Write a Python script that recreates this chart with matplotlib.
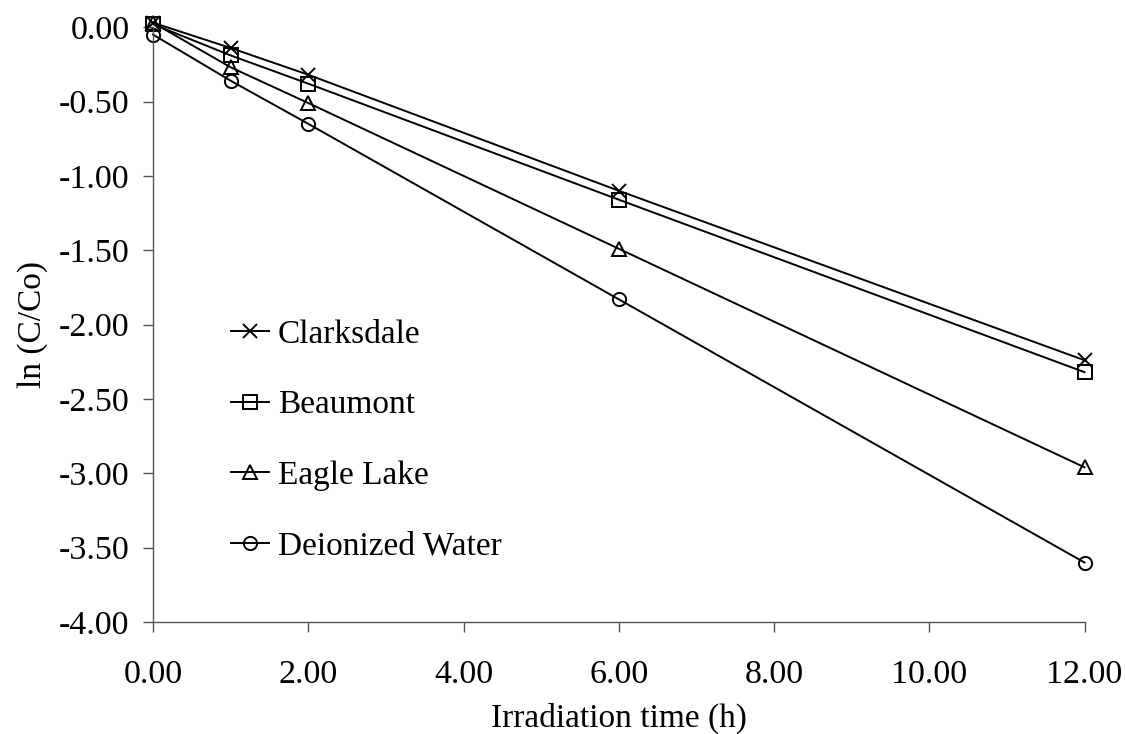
import matplotlib.pyplot as plt

# irradiation time (h)
hours = [0, 1, 2, 6, 12]

# ln(C/Co) for each water
clarksdale = [0.03, -0.14, -0.32, -1.10, -2.24]
beaumont = [0.02, -0.19, -0.38, -1.16, -2.32]
eagle_lake = [0.03, -0.27, -0.51, -1.49, -2.96]
deionized = [-0.05, -0.36, -0.65, -1.83, -3.60]

series = [
    ("Clarksdale", clarksdale, "x"),
    ("Beaumont", beaumont, "s"),
    ("Eagle Lake", eagle_lake, "^"),
    ("Deionized Water", deionized, "o"),
]

plt.rcParams["font.family"] = ["Liberation Serif", "DejaVu Serif"]
plt.rcParams["font.size"] = 24.5

fig = plt.figure(figsize=(11.25, 7.34), dpi=100)
ax = fig.add_axes([0.136, 0.1526, 0.828, 0.8104])

for name, vals, mk in series:
    ax.plot(hours, vals, color="black", lw=1.4, marker=mk, markersize=9.5,
            markerfacecolor="none", markeredgecolor="black", markeredgewidth=1.4,
            label=name, clip_on=False)

ax.set_xlim(0, 12)
ax.set_ylim(-4, 0)
ax.set_xticks([0, 2, 4, 6, 8, 10, 12])
ax.set_yticks([0, -0.5, -1, -1.5, -2, -2.5, -3, -3.5, -4])
ax.xaxis.set_major_formatter(plt.FormatStrFormatter("%.2f"))
ax.yaxis.set_major_formatter(plt.FormatStrFormatter("%.2f"))
ax.tick_params(axis="both", direction="out", length=7, width=1, color="#555555")
ax.tick_params(axis="x", pad=20)
ax.tick_params(axis="y", pad=10)
for side in ["top", "right"]:
    ax.spines[side].set_visible(False)
for side in ["left", "bottom"]:
    ax.spines[side].set_color("#555555")
    ax.spines[side].set_linewidth(1)

ax.set_xlabel("Irradiation time (h)", fontsize=24, labelpad=9)
ax.set_ylabel("ln (C/Co)", fontsize=24, labelpad=8)

ax.legend(loc="upper left", bbox_to_anchor=(0.069, 0.531), frameon=False,
          handlelength=1.15, handletextpad=0.27, labelspacing=1.2, fontsize=24,
          borderaxespad=0)

fig.savefig("out.png", dpi=100)
